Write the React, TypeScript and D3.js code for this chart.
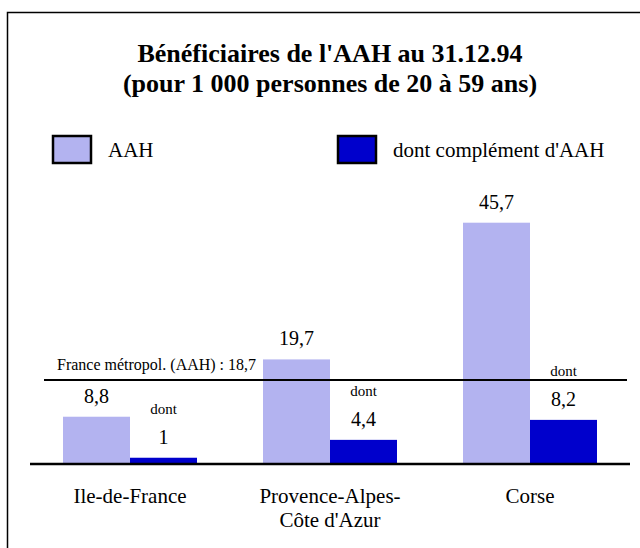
import React from 'react';
import * as d3 from 'd3';

// Data
const regions = ['Ile-de-France', "Provence-Alpes-\nCôte d'Azur", 'Corse'];
const aahValues = [8.8, 19.7, 45.7];
const complementValues = [1, 4.4, 8.2];
const seriesNames = ['AAH', "dont complément d'AAH"];
const refLabel = 'France métropol. (AAH) : 18,7';
const refLineLevel = 15.8; // where the line sits on the bar scale
const titleLines = ["Bénéficiaires de l'AAH au 31.12.94", '(pour 1 000 personnes de 20 à 59 ans)'];

const colors = ['#b3b3f0', '#0000cc'];

const fmt = (v: number) => String(v).replace('.', ',');

export default function App() {
  const width = 640;
  const height = 548;
  const baseY = 463;

  const x = d3.scaleBand<string>()
    .domain(regions)
    .range([30, 630])
    .paddingInner(0.33)
    .paddingOuter(0.165);

  const y = d3.scaleLinear()
    .domain([0, 45.7])
    .range([baseY, 222.7]);

  const sub = d3.scaleBand<number>()
    .domain([0, 1])
    .range([0, x.bandwidth()]);

  const series = [aahValues, complementValues];

  // page default font is already the serif one (Times metrics)
  return (
    <svg width={width} height={height} style={{ position: 'absolute', left: 0, top: 0 }}>
      <rect x={0} y={0} width={width} height={height} fill="#fff" />
      <rect x={7.5} y={12.5} width={width + 10} height={height + 10} fill="none" stroke="#000" strokeWidth={1.5} />

      {titleLines.map((t, i) => (
        <text key={t} x={330} y={62 + i * 30} textAnchor="middle" fontWeight="bold" fontSize={26}>{t}</text>
      ))}

      {seriesNames.map((name, i) => (
        <g key={name} transform={`translate(${i === 0 ? 52 : 337},135)`}>
          <rect x={1} y={1} width={38} height={27} fill={colors[i]} stroke="#000" strokeWidth={2.5} />
          <text x={56} y={22} fontSize={21}>{name}</text>
        </g>
      ))}

      {regions.map((r, ri) => (
        <g key={r} transform={`translate(${x(r)},0)`}>
          {series.map((vals, si) => {
            const v = vals[ri];
            const bx = sub(si)!;
            const cx = bx + sub.bandwidth() / 2;
            return (
              <g key={si}>
                <rect x={bx} y={y(v)} width={sub.bandwidth()} height={baseY - y(v)} fill={colors[si]} />
                <text x={cx} y={y(v) - 14} textAnchor="middle" fontSize={20}>{fmt(v)}</text>
                {si === 1 && (
                  <text x={cx} y={y(v) - 44} textAnchor="middle" fontSize={15}>dont</text>
                )}
              </g>
            );
          })}
          {r.split('\n').map((line, li) => (
            <text key={li} x={x.bandwidth() / 2} y={503 + li * 24} textAnchor="middle" fontSize={21}>{line}</text>
          ))}
        </g>
      ))}

      <line x1={44} x2={627} y1={y(refLineLevel)} y2={y(refLineLevel)} stroke="#000" strokeWidth={2} />
      <text x={57} y={y(refLineLevel) - 10} fontSize={16}>{refLabel}</text>

      <line x1={30} x2={630} y1={baseY + 1} y2={baseY + 1} stroke="#000" strokeWidth={2.5} />
    </svg>
  );
}
